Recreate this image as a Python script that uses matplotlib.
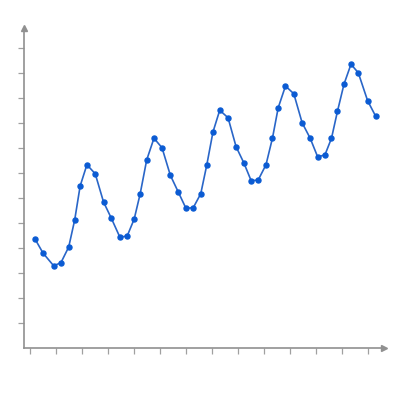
import matplotlib
matplotlib.use("Agg")
import matplotlib.pyplot as plt

# positions along x (in tick units) and values (in tick units)
xs = [0.20, 0.50, 0.91, 1.19, 1.49, 1.72, 1.93, 2.19, 2.51, 2.83, 3.13, 3.46,
      3.74, 4.01, 4.24, 4.49, 4.77, 5.08, 5.40, 5.70, 6.00, 6.28, 6.57, 6.80,
      7.04, 7.30, 7.62, 7.93, 8.23, 8.51, 8.78, 9.08, 9.33, 9.55, 9.83, 10.15,
      10.47, 10.78, 11.07, 11.35, 11.60, 11.83, 12.08, 12.35, 12.63, 12.99, 13.30]
ys = [4.35, 3.80, 3.29, 3.41, 4.04, 5.12, 6.48, 7.33, 6.97, 5.84, 5.19, 4.43,
      4.48, 5.16, 6.17, 7.52, 8.39, 8.01, 6.91, 6.25, 5.59, 5.61, 6.17, 7.31,
      8.64, 9.51, 9.21, 8.05, 7.40, 6.69, 6.72, 7.33, 8.40, 9.61, 10.48, 10.17,
      9.01, 8.39, 7.64, 7.73, 8.39, 9.47, 10.55, 11.35, 11.01, 9.89, 9.27]
xticks = list(range(14))
yticks = list(range(1, 13))

fig = plt.figure(figsize=(4, 4), dpi=100)
ax = fig.add_axes([24/400, 52/400, 360/400, 320/400])

ax.plot(xs, ys, color="#2a66c8", linewidth=1.2, marker="o", markersize=3.6,
        markerfacecolor="#0b5bd3", markeredgecolor="#0b5bd3", zorder=3)

ax.set_xlim(-0.23, 13.62)
ax.set_ylim(0, 12.8)
ax.set_xticks(xticks)
ax.set_yticks(yticks)
ax.tick_params(axis="both", colors="#a0a0a0", length=4, width=0.9,
               direction="out", labelbottom=False, labelleft=False)

for s in ["top", "right"]:
    ax.spines[s].set_visible(False)
for s in ["left", "bottom"]:
    ax.spines[s].set_color("#909090")
    ax.spines[s].set_linewidth(1.2)

ax.plot(1, 0, ">", color="#909090", markersize=4, transform=ax.transAxes, clip_on=False)
ax.plot(0, 1, "^", color="#909090", markersize=4, transform=ax.transAxes, clip_on=False)

fig.savefig("out.png", dpi=100)
